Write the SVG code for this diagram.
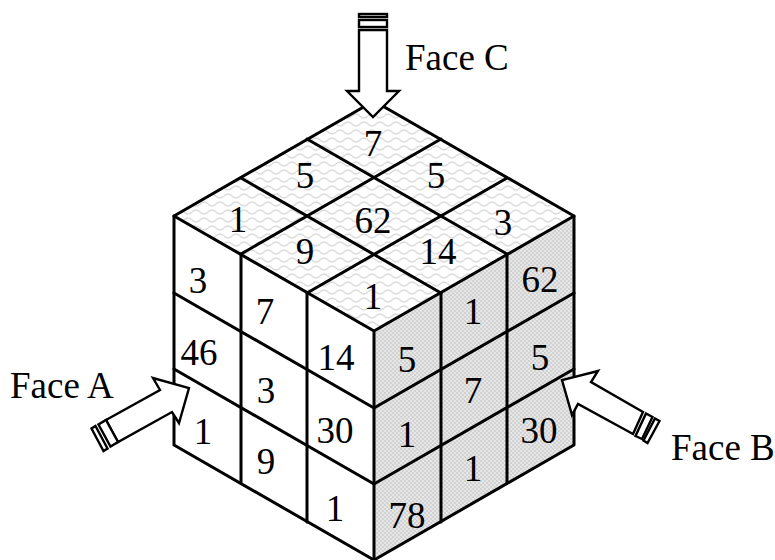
<svg xmlns="http://www.w3.org/2000/svg" width="775" height="560" viewBox="0 0 775 560">
<style>
text{font-family:"Liberation Serif","Times New Roman",serif;font-size:37px;fill:#000}
.n{text-anchor:middle}
.l{fill:none;stroke:#000;stroke-width:3;stroke-linecap:round;stroke-linejoin:round}
.a{fill:#fff;stroke:#000;stroke-width:2.4;stroke-linejoin:miter}
</style>
<defs>
<pattern id="wave" width="16" height="16" patternUnits="userSpaceOnUse">
<rect width="16" height="16" fill="#fff"/>
<path d="M0 4q4 -4 8 0t8 0M-8 12q4 -4 8 0t8 0t8 0" fill="none" stroke="#dcdcdc" stroke-width="1.3"/>
</pattern>
<pattern id="dots" width="4" height="4" patternUnits="userSpaceOnUse">
<rect width="4" height="4" fill="#e6e6e6"/>
<rect width="2" height="2" fill="#d2d2d2"/>
<rect x="2" y="2" width="2" height="2" fill="#d2d2d2"/>
</pattern>
</defs>
<rect width="775" height="560" fill="#fff"/>
<g id="faces">
<path id="face-top" d="M374 101L574 216L374 331L174 216Z" fill="url(#wave)"/>
<path id="face-left" d="M174 216L374 331V560L174 445Z" fill="#fff"/>
<path id="face-right" d="M574 216L374 331V560L574 445Z" fill="url(#dots)"/>
</g>
<g id="connectors">
<path class="l" d="M374 101L574 216V445L374 560L174 445V216Z"/>
<path class="l" d="M174 216L374 331L574 216M374 331V560"/>
<path class="l" d="M307 139L507 254M241 178L441 293M441 139L241 254M507 178L307 293"/>
<path class="l" d="M241 254V483M307 293V522M441 293V522M507 254V483"/>
<path class="l" d="M174 293L374 408L574 293M174 369L374 484L574 369"/>
</g>
<g id="top-cells">
<text class="n" x="373" y="156">7</text>
<text class="n" x="305" y="188">5</text>
<text class="n" x="436" y="188">5</text>
<text class="n" x="238" y="232">1</text>
<text class="n" x="373" y="233">62</text>
<text class="n" x="503" y="235">3</text>
<text class="n" x="305" y="264">9</text>
<text class="n" x="438" y="264">14</text>
<text class="n" x="373" y="309">1</text>
</g>
<g id="left-cells">
<text class="n" x="198" y="293">3</text>
<text class="n" x="265" y="324">7</text>
<text class="n" x="199" y="365">46</text>
<text class="n" x="336" y="370">14</text>
<text class="n" x="266" y="403">3</text>
<text class="n" x="203" y="444">1</text>
<text class="n" x="335" y="443">30</text>
<text class="n" x="266" y="474">9</text>
<text class="n" x="335" y="521">1</text>
</g>
<g id="right-cells">
<text class="n" x="540" y="292">62</text>
<text class="n" x="473" y="324">1</text>
<text class="n" x="407" y="372">5</text>
<text class="n" x="540" y="370">5</text>
<text class="n" x="473" y="403">7</text>
<text class="n" x="407" y="447">1</text>
<text class="n" x="539" y="443">30</text>
<text class="n" x="473" y="481">1</text>
<text class="n" x="407" y="528">78</text>
</g>
<g id="arrow-c">
<path class="a" d="M359 30V91H347L373 117L399 91H387V30Z"/>
<rect class="a" x="359" y="20" width="28" height="7"/>
<rect class="a" x="359" y="14" width="28" height="3"/>
<text x="405" y="70">Face C</text>
</g>
<g id="arrow-a">
<path class="a" d="M106 420L160 390L153 378L189 388L179 423L172 412L118 442Z"/>
<path class="a" d="M106 420L118 442L110.500 446.500L98.500 424.500Z"/>
<path class="a" d="M95.500 426L107.500 448.500L103.500 451L91.500 428.500Z"/>
<text x="10" y="398">Face A</text>
</g>
<g id="arrow-b">
<path class="a" d="M633 434L578 404L572 415L562 380L598 371L591 382L643 412Z"/>
<path class="a" d="M646 413.500L652.500 417L642 439L635.500 436Z"/>
<path class="a" d="M655 418.500L659.500 421L647.500 443L643.500 440.500Z"/>
<text x="671" y="460">Face B</text>
</g>
</svg>
